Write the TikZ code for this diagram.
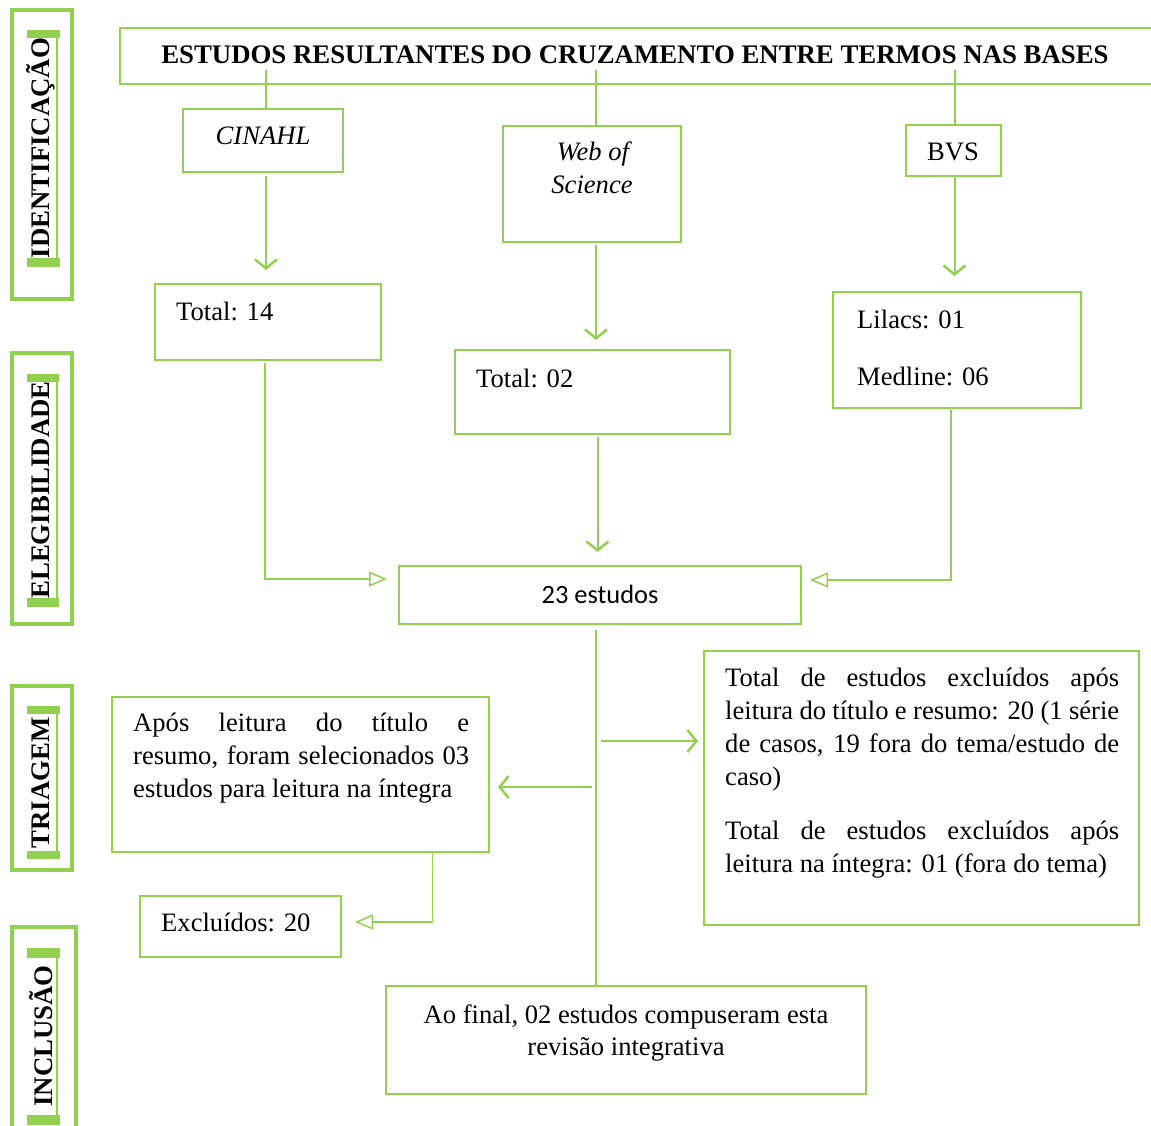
\documentclass[tikz,border=0pt]{standalone}
\usepackage{fontspec}
\setmainfont{Liberation Serif}
\newfontfamily\calib{Carlito}
\usetikzlibrary{arrows.meta}
\definecolor{grn}{HTML}{92D050}
\newcommand\gbox[5]{\node[box,minimum width={(#4)-(#2)},minimum height={(#5)-(#3)}] (#1) at (#2,#3) {};}
\newcommand\fs{\fontsize{26.6}{33}\selectfont}
\begin{document}
\begin{tikzpicture}[x=1pt,y=-1pt,
 box/.style={draw=grn,line width=2pt,anchor=north west,inner sep=0pt,outer sep=0pt},
 txt/.style={font=\fs,inner sep=0pt,anchor=base west},
 ctxt/.style={font=\fs,inner sep=0pt,anchor=base},
 conn/.style={draw=grn,line width=2pt},
 varrow/.style={conn,-{Straight Barb[length=9pt,width=22pt,line width=2.5pt]}},
 tarrow/.style={draw=grn,line width=1.5pt,-{Triangle[open,length=18pt,width=15pt]}},
 sideout/.style={draw=grn,line width=3.5pt},
 sidebar/.style={fill=grn},
 sideline/.style={draw=grn,line width=1.5pt},
 sidetxt/.style={font=\fontsize{26.8}{30}\selectfont\bfseries,rotate=90,inner sep=0pt}
 ]
\useasboundingbox (0,0) rectangle (1151,1126);

% side labels
\draw[sideout] (12,10) rectangle (72,299);
\fill[sidebar] (27,30) rectangle (60,38);
\fill[sidebar] (27,258) rectangle (60,267);
\draw[sideline] (57,30) -- (57,267);
\node[sidetxt] (sid1) at (41,148) {IDENTIFICAÇÃO};

\draw[sideout] (12,353) rectangle (72,624);
\fill[sidebar] (27,374) rectangle (59,382);
\fill[sidebar] (27,598) rectangle (59,607);
\draw[sideline] (57,374) -- (57,607);
\node[sidetxt] (sid2) at (41,490) {ELEGIBILIDADE};

\draw[sideout] (12,686) rectangle (72,870);
\fill[sidebar] (27,706) rectangle (60,714);
\fill[sidebar] (27,851) rectangle (60,859);
\draw[sideline] (57,706) -- (57,859);
\node[sidetxt] (sid3) at (41,783) {TRIAGEM};

\draw[sideout] (12,927) rectangle (76,1140);
\fill[sidebar] (27,948) rectangle (60,958);
\fill[sidebar] (27,1115) rectangle (60,1125);
\draw[sideline] (57,948) -- (57,1125);
\node[sidetxt] (sid4) at (41,1036) {INCLUSÃO};

% boxes
\gbox{title}{120}{28}{1156}{84}
\node[ctxt,font=\fontsize{26.8}{33}\selectfont\bfseries] (titletxt) at (635,64) {ESTUDOS RESULTANTES DO CRUZAMENTO ENTRE TERMOS NAS BASES};
\gbox{cinahl}{183}{109}{343}{172}
\node[ctxt,font=\fs\itshape] (cinahltxt) at (263,145) {CINAHL};
\gbox{web}{503}{126}{681}{242}
\node[ctxt,font=\fs\itshape] (webtxt1) at (593,161) {Web of};
\node[ctxt,font=\fs\itshape] (webtxt2) at (592,194) {Science};
\gbox{bvs}{906}{125}{1001}{176}
\node[ctxt] (bvstxt) at (953,161) {BVS};

\gbox{t14}{155}{284}{381}{360}
\node[txt] (t14txt) at (176,320) {Total: 14};
\gbox{t02}{455}{350}{730}{434}
\node[txt] (t02txt) at (476,387) {Total: 02};
\gbox{lil}{833}{292}{1081}{408}
\node[txt] (liltxt1) at (857,328) {Lilacs: 01};
\node[txt] (liltxt2) at (857,385) {Medline: 06};

\gbox{n23}{399}{566}{801}{624}
\node[ctxt,font=\fontsize{26.4}{33}\calib] (n23txt) at (600,603) {23 estudos};

\gbox{apos}{112}{697}{489}{852}
\node[txt,anchor=north west,text width=336pt,align=justify] (apostxt) at (133,713) {Após leitura do título e\linebreak resumo, foram selecionados 03\linebreak estudos para leitura na íntegra};

\gbox{exc}{704}{651}{1139}{925}
\node[txt,anchor=north west,text width=394pt,align=justify] (exctxt1) at (725,668) {Total de estudos excluídos após\linebreak leitura do título e resumo: 20 (1 série\linebreak de casos, 19 fora do tema/estudo de\linebreak caso)};
\node[txt,anchor=north west,text width=394pt,align=justify] (exctxt2) at (725,821) {Total de estudos excluídos após\linebreak leitura na íntegra: 01 (fora do tema)};

\gbox{ex20}{140}{896}{341}{957}
\node[txt] (ex20txt) at (161,931) {Excluídos: 20};

\gbox{fin}{386}{986}{866}{1094}
\node[ctxt] (fintxt1) at (626,1023) {Ao final, 02 estudos compuseram esta};
\node[ctxt] (fintxt2) at (626,1055) {revisão integrativa};

% connectors
\draw[conn] (cinahl.north) ++(3,0) -- ++(0,-39);
\draw[conn] (web.north) ++(4,0) -- ++(0,-56);
\draw[conn] (bvs.north) ++(1,0) -- ++(0,-55);

\draw[varrow] (cinahl.south) ++(3,4) -- ++(0,94);
\draw[varrow] (web.south) ++(4,3) -- ++(0,95);
\draw[varrow] (bvs.south) ++(1,1) -- ++(0,99);
\draw[varrow] (t02.south) ++(5,3) -- ++(0,115);

\draw[tarrow] (t14.south) ++(-3,3) |- ([xshift=-12pt,yshift=16pt]n23.west);
\draw[tarrow] (lil.south) ++(-6,2) |- ([xshift=9pt,yshift=15pt]n23.east);

\draw[conn,line width=1.5pt] ([xshift=-4pt,yshift=-6pt]n23.south) -- ([xshift=-30pt]fin.north);
\coordinate (v1) at (596,741);
\coordinate (v2) at (596,787);
\draw[varrow] (v1) ++(5,0) -- ([xshift=-6pt]exc.west |- v1);
\draw[varrow] (v2) ++(-4,0) -- ([xshift=9pt]apos.east |- v2);

\draw[tarrow] (apos.south) ++(132,0) |- ([xshift=14pt,yshift=4.5pt]ex20.east);
\end{tikzpicture}
\end{document}
